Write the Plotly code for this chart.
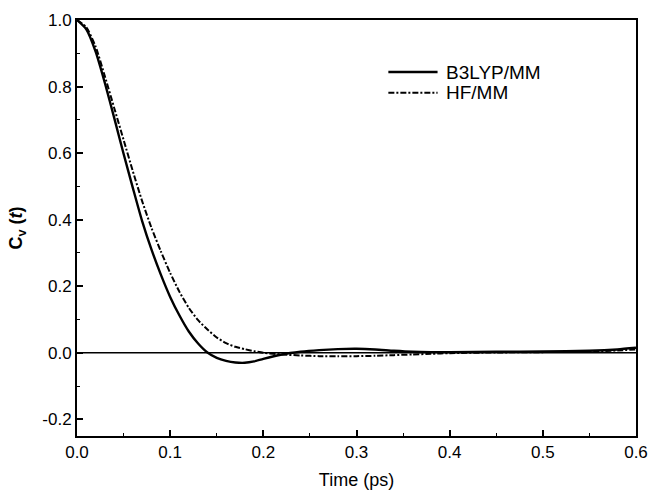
import plotly.graph_objects as go

# Velocity autocorrelation function C_v(t) for two QM/MM levels of theory
time_ps = [0.00, 0.01, 0.02, 0.03, 0.04, 0.05, 0.06, 0.07, 0.08, 0.09,
           0.10, 0.11, 0.12, 0.13, 0.14, 0.15, 0.16, 0.17, 0.18, 0.19,
           0.20, 0.22, 0.24, 0.26, 0.28, 0.30, 0.32, 0.34, 0.36, 0.38,
           0.40, 0.45, 0.50, 0.55, 0.58, 0.60]

b3lyp_mm = [1.000, 0.972, 0.905, 0.810, 0.705, 0.598, 0.495, 0.395, 0.310, 0.235,
            0.168, 0.112, 0.064, 0.028, 0.001, -0.015, -0.024, -0.029, -0.030, -0.026,
            -0.018, -0.005, 0.003, 0.008, 0.011, 0.012, 0.010, 0.006, 0.003, 0.002,
            0.002, 0.003, 0.004, 0.006, 0.010, 0.015]

hf_mm = [1.000, 0.978, 0.920, 0.830, 0.735, 0.640, 0.545, 0.455, 0.375, 0.305,
         0.240, 0.183, 0.135, 0.098, 0.070, 0.046, 0.029, 0.018, 0.011, 0.005,
         0.000, -0.005, -0.008, -0.010, -0.010, -0.010, -0.009, -0.007, -0.005, -0.003,
         -0.001, 0.001, 0.002, 0.004, 0.007, 0.010]

series_names = ["B3LYP/MM", "HF/MM"]

x_ticks = [0.0, 0.1, 0.2, 0.3, 0.4, 0.5, 0.6]
y_ticks = [-0.2, 0.0, 0.2, 0.4, 0.6, 0.8, 1.0]

font_family = "Liberation Sans, Arial, sans-serif"
line_styles = [dict(color="black", width=2.4),
               dict(color="black", width=2, dash="6px,2px,2px,2px")]

fig = go.Figure()

# zero reference line
fig.add_trace(go.Scatter(x=[x_ticks[0], x_ticks[-1]], y=[0, 0], mode="lines",
                         line=dict(color="black", width=1.5), showlegend=False,
                         hoverinfo="skip"))

for name, values, style in zip(series_names, [b3lyp_mm, hf_mm], line_styles):
    fig.add_trace(go.Scatter(x=time_ps, y=values, mode="lines", name=name,
                             showlegend=False,
                             line=dict(shape="spline", smoothing=0.6, **style)))

# key: line sample plus label for each series, placed in paper coordinates
key_rows = [0.875, 0.825]
for name, style, yk in zip(series_names, line_styles, key_rows):
    fig.add_shape(type="line", xref="paper", yref="paper",
                  x0=0.557, x1=0.645, y0=yk, y1=yk, line=style)
    fig.add_annotation(x=0.657, y=yk, xref="paper", yref="paper", text=name,
                       showarrow=False, xanchor="left", yanchor="middle",
                       font=dict(family=font_family, size=19, color="black"))

axis_common = dict(
    showline=True, linecolor="black", linewidth=2, mirror=True,
    ticks="inside", ticklen=6, tickwidth=1.5, tickcolor="black",
    showgrid=False, zeroline=False, automargin=False,
    tickfont=dict(family=font_family, size=17, color="black"),
)

fig.update_xaxes(range=[0, 0.6], tickvals=x_ticks,
                 ticktext=[f"{v:.1f}" for v in x_ticks],
                 minor=dict(ticks="inside", ticklen=3, tickwidth=1, tickcolor="black",
                            dtick=0.05, showgrid=False),
                 title=dict(text="Time (ps)",
                            font=dict(family=font_family, size=18, color="black")),
                 **axis_common)
fig.update_yaxes(range=[-0.25, 1.0], tickvals=y_ticks,
                 ticktext=[f"{v:.1f}" for v in y_ticks],
                 minor=dict(ticks="inside", ticklen=3, tickwidth=1, tickcolor="black",
                            dtick=0.1, showgrid=False),
                 title=dict(text="<b>C<sub>v</sub> (<i>t</i>)</b>",
                            font=dict(family=font_family, size=18, color="black")),
                 **axis_common)

fig.update_layout(
    width=651, height=490,
    margin=dict(l=77, r=15, t=20, b=54),
    paper_bgcolor="white", plot_bgcolor="white",
    showlegend=False,
)

fig.write_html("out.html")
